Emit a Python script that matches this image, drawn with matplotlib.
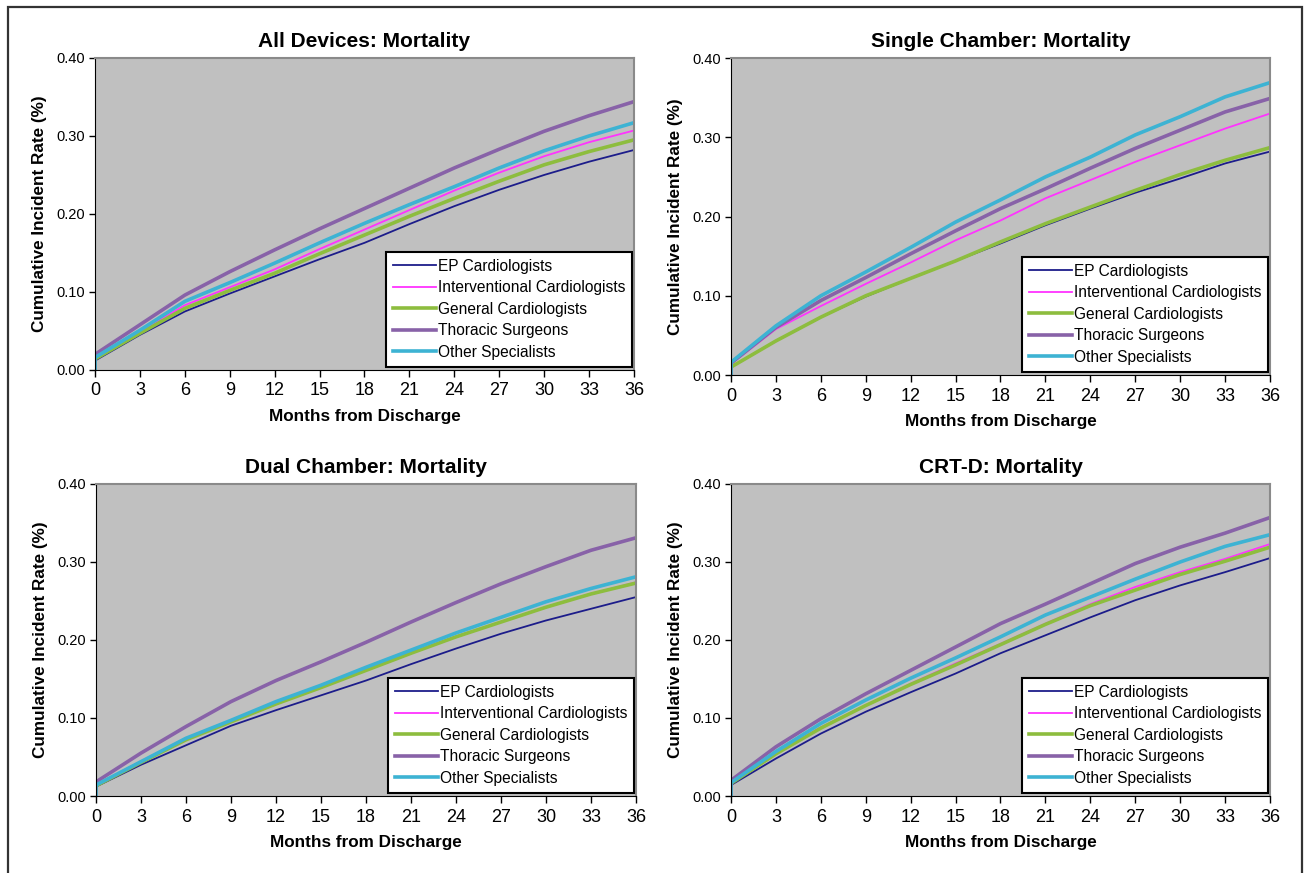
import matplotlib
matplotlib.use('Agg')
import matplotlib.pyplot as plt
import matplotlib.patches as mpatches

plt.rcParams['font.family'] = ['Liberation Sans', 'DejaVu Sans']

# months from discharge; first point is the vertical jump at month 0
MONTHS = [0, 0, 3, 6, 9, 12, 15, 18, 21, 24, 27, 30, 33, 36]

SERIES = ['EP Cardiologists', 'Interventional Cardiologists',
          'General Cardiologists', 'Thoracic Surgeons', 'Other Specialists']

ALL_EP    = [0, 0.012, 0.045, 0.075, 0.098, 0.120, 0.142, 0.163, 0.187, 0.210, 0.231, 0.250, 0.267, 0.282]
ALL_INT   = [0, 0.015, 0.049, 0.083, 0.106, 0.129, 0.155, 0.180, 0.205, 0.230, 0.253, 0.274, 0.292, 0.307]
ALL_GEN   = [0, 0.014, 0.047, 0.079, 0.102, 0.124, 0.149, 0.173, 0.197, 0.220, 0.242, 0.263, 0.280, 0.295]
ALL_THO   = [0, 0.020, 0.058, 0.096, 0.126, 0.154, 0.181, 0.207, 0.233, 0.259, 0.283, 0.306, 0.326, 0.344]
ALL_OTH   = [0, 0.016, 0.051, 0.088, 0.112, 0.137, 0.163, 0.188, 0.212, 0.235, 0.259, 0.281, 0.300, 0.317]

SC_EP     = [0, 0.010, 0.043, 0.073, 0.099, 0.122, 0.144, 0.166, 0.189, 0.210, 0.230, 0.248, 0.267, 0.282]
SC_INT    = [0, 0.014, 0.058, 0.087, 0.115, 0.142, 0.170, 0.195, 0.223, 0.246, 0.269, 0.290, 0.311, 0.330]
SC_GEN    = [0, 0.010, 0.043, 0.073, 0.100, 0.122, 0.144, 0.168, 0.191, 0.212, 0.233, 0.253, 0.271, 0.287]
SC_THO    = [0, 0.015, 0.060, 0.094, 0.123, 0.153, 0.182, 0.210, 0.235, 0.261, 0.286, 0.309, 0.332, 0.349]
SC_OTH    = [0, 0.016, 0.062, 0.100, 0.130, 0.161, 0.193, 0.221, 0.250, 0.275, 0.303, 0.326, 0.351, 0.369]

DC_EP     = [0, 0.012, 0.040, 0.065, 0.090, 0.110, 0.129, 0.148, 0.169, 0.189, 0.208, 0.225, 0.240, 0.255]
DC_INT    = [0, 0.013, 0.043, 0.072, 0.095, 0.118, 0.139, 0.161, 0.183, 0.204, 0.223, 0.242, 0.259, 0.274]
DC_GEN    = [0, 0.013, 0.043, 0.072, 0.095, 0.118, 0.139, 0.161, 0.183, 0.204, 0.223, 0.242, 0.259, 0.273]
DC_THO    = [0, 0.018, 0.055, 0.089, 0.121, 0.148, 0.172, 0.197, 0.223, 0.248, 0.272, 0.294, 0.315, 0.331]
DC_OTH    = [0, 0.014, 0.044, 0.074, 0.097, 0.121, 0.142, 0.165, 0.187, 0.209, 0.229, 0.249, 0.266, 0.281]

CRT_EP    = [0, 0.014, 0.048, 0.080, 0.108, 0.133, 0.157, 0.183, 0.206, 0.229, 0.251, 0.270, 0.287, 0.305]
CRT_INT   = [0, 0.016, 0.055, 0.088, 0.116, 0.144, 0.170, 0.195, 0.221, 0.246, 0.268, 0.287, 0.304, 0.323]
CRT_GEN   = [0, 0.016, 0.054, 0.087, 0.116, 0.143, 0.168, 0.194, 0.220, 0.244, 0.264, 0.284, 0.301, 0.319]
CRT_THO   = [0, 0.020, 0.063, 0.099, 0.131, 0.161, 0.191, 0.221, 0.246, 0.272, 0.298, 0.319, 0.337, 0.357]
CRT_OTH   = [0, 0.017, 0.057, 0.093, 0.123, 0.151, 0.177, 0.204, 0.232, 0.255, 0.278, 0.300, 0.320, 0.335]

PANELS = [
    ('All Devices: Mortality',    [ALL_EP, ALL_INT, ALL_GEN, ALL_THO, ALL_OTH]),
    ('Single Chamber: Mortality', [SC_EP, SC_INT, SC_GEN, SC_THO, SC_OTH]),
    ('Dual Chamber: Mortality',   [DC_EP, DC_INT, DC_GEN, DC_THO, DC_OTH]),
    ('CRT-D: Mortality',          [CRT_EP, CRT_INT, CRT_GEN, CRT_THO, CRT_OTH]),
]

COLORS = ['#1c1c8a', '#ff33ff', '#8dbd3e', '#8862a8', '#3db3d3']
WIDTHS = [1.3, 1.3, 2.6, 2.6, 2.6]

# axes rectangles in figure fraction [left, bottom, width, height]
RECTS = [
    [0.0726, 0.5762, 0.4117, 0.3574],
    [0.5584, 0.5704, 0.4118, 0.3631],
    [0.0733, 0.0882, 0.4125, 0.3574],
    [0.5584, 0.0882, 0.4118, 0.3574],
]

fig = plt.figure(figsize=(13.09, 8.73), dpi=100)

for (title, vals), rect in zip(PANELS, RECTS):
    ax = fig.add_axes(rect)
    ax.set_facecolor('#c0c0c0')
    for name, y, c, lw in zip(SERIES, vals, COLORS, WIDTHS):
        ax.plot(MONTHS, y, color=c, linewidth=lw, label=name)
    ax.set_xlim(0, 36)
    ax.set_ylim(0, 0.40)
    ax.set_xticks(range(0, 37, 3))
    ax.set_yticks([0, 0.1, 0.2, 0.3, 0.4])
    ax.set_yticklabels(['0.00', '0.10', '0.20', '0.30', '0.40'])
    ax.tick_params(axis='x', direction='out', length=5, width=1, labelsize=13, pad=4)
    ax.tick_params(axis='y', direction='out', length=4, width=1, labelsize=10.5, pad=3)
    ax.spines['left'].set_color('black')
    ax.spines['bottom'].set_color('black')
    ax.spines['top'].set_color('#8a8a8a')
    ax.spines['right'].set_color('#8a8a8a')
    for sp in ['top', 'right']:
        ax.spines[sp].set_linewidth(1.5)
    ax.set_title(title, fontsize=15, fontweight='bold', pad=8)
    ax.set_xlabel('Months from Discharge', fontsize=12.3, fontweight='bold', labelpad=7)
    ax.set_ylabel('Cumulative Incident Rate (%)', fontsize=12.3, fontweight='bold', labelpad=7)
    leg = ax.legend(loc='lower right', bbox_to_anchor=(0.997, 0.01), fontsize=11.2,
                    frameon=True, fancybox=False, framealpha=1, edgecolor='black',
                    handlelength=2.8, handletextpad=0.1, labelspacing=0.42,
                    borderpad=0.45, borderaxespad=0)
    leg.get_frame().set_linewidth(1.5)

border = mpatches.Rectangle((0.0061, -0.02), 0.9885, 1.012, transform=fig.transFigure,
                            fill=False, edgecolor='#333333', linewidth=1.6)
fig.patches.append(border)

fig.savefig('out.png', dpi=100)
